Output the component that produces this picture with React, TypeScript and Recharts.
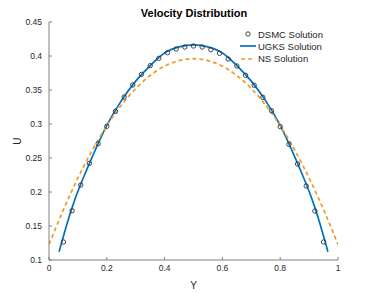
import { LineChart, Line, XAxis, YAxis, Legend } from 'recharts';

const dsmcY = [0.05, 0.08, 0.11, 0.14, 0.17, 0.2, 0.23, 0.26, 0.29, 0.32, 0.35, 0.38, 0.41, 0.44, 0.47, 0.5,
  0.53, 0.56, 0.59, 0.62, 0.65, 0.68, 0.71, 0.74, 0.77, 0.8, 0.83, 0.86, 0.89, 0.92, 0.95];
const dsmcU = [0.1265, 0.1725, 0.2103, 0.2422, 0.271, 0.2966, 0.3186, 0.3397, 0.3574, 0.373, 0.3858, 0.3966,
  0.4049, 0.4103, 0.4132, 0.4147, 0.4132, 0.4093, 0.4039, 0.3956, 0.3853, 0.3716, 0.3569, 0.3392, 0.3196,
  0.2961, 0.2701, 0.2412, 0.2088, 0.172, 0.1265];

const ugksY = [0.035, 0.04, 0.05, 0.065, 0.08, 0.1, 0.12, 0.15, 0.2, 0.25, 0.3, 0.35, 0.4, 0.45, 0.5,
  0.55, 0.6, 0.65, 0.7, 0.75, 0.8, 0.85, 0.88, 0.9, 0.92, 0.935, 0.95, 0.96, 0.965];
const ugksU = [0.112, 0.12, 0.135, 0.157, 0.177, 0.201, 0.222, 0.252, 0.298, 0.334, 0.363, 0.386, 0.4045,
  0.4135, 0.4165, 0.4135, 0.4045, 0.386, 0.363, 0.334, 0.298, 0.252, 0.222, 0.201, 0.177, 0.157, 0.135,
  0.12, 0.112];

const nsY = [0, 0.05, 0.1, 0.15, 0.2, 0.25, 0.3, 0.35, 0.4, 0.45, 0.5, 0.55, 0.6, 0.65, 0.7, 0.75, 0.8,
  0.85, 0.9, 0.95, 1];
const nsU = [0.123, 0.174, 0.2206, 0.2617, 0.2974, 0.3275, 0.3522, 0.3713, 0.385, 0.3933, 0.396, 0.3933,
  0.385, 0.3713, 0.3522, 0.3275, 0.2974, 0.2617, 0.2206, 0.174, 0.123];

const xTicks = [0, 0.2, 0.4, 0.6, 0.8, 1];
const yTicks = [0.1, 0.15, 0.2, 0.25, 0.3, 0.35, 0.4, 0.45];

const toRows = (xs: number[], us: number[]) => xs.map((x, i) => ({ x, u: us[i] }));

const dsmc = toRows(dsmcY, dsmcU);
const ugks = toRows(ugksY, ugksU);
const ns = toRows(nsY, nsU);

const font = '"Liberation Sans", Arial, Helvetica, sans-serif';
const textColor = '#262626';
const axisColor = '#808080';
const blue = '#0072BD';
const orange = '#ED9A2A';

const renderLegend = () => {
  const rows = [
    { label: 'DSMC Solution', kind: 'dot' },
    { label: 'UGKS Solution', kind: 'line' },
    { label: 'NS Solution', kind: 'dash' },
  ];
  return (
    <div style={{ fontFamily: font, fontSize: '9.5px', color: textColor }}>
      {rows.map((r) => (
        <div key={r.label} style={{ display: 'flex', alignItems: 'center', height: '12.3px' }}>
          <svg width={18} height={10} style={{ display: 'block' }}>
            {r.kind === 'dot' && <circle cx={9} cy={5} r={2.2} fill="none" stroke="#333" strokeWidth={0.9} />}
            {r.kind === 'line' && <line x1={1} y1={5} x2={17} y2={5} stroke={blue} strokeWidth={1.7} />}
            {r.kind === 'dash' && (
              <line x1={2} y1={5} x2={16} y2={5} stroke={orange} strokeWidth={1.7} strokeDasharray="4 3" />
            )}
          </svg>
          <span style={{ marginLeft: 1, whiteSpace: 'nowrap' }}>{r.label}</span>
        </div>
      ))}
    </div>
  );
};

export default function App() {
  return (
    <div style={{ position: 'absolute', left: 0, top: 0, width: 374, height: 293, background: '#fff' }}>
      <LineChart width={374} height={293} margin={{ top: 22, right: 36, bottom: 13, left: 9 }}>
        <text x={194} y={17} textAnchor="middle" fontFamily={font} fontSize={11} fontWeight="bold" fill="#000">
          Velocity Distribution
        </text>
        <text
          x={20.5}
          y={141}
          transform="rotate(-90, 20.5, 141)"
          textAnchor="middle"
          fontFamily={font}
          fontSize={10}
          fill={textColor}
        >
          U
        </text>
        <text x={193.5} y={289} textAnchor="middle" fontFamily={font} fontSize={10} fill={textColor}>
          Y
        </text>
        <XAxis
          type="number"
          dataKey="x"
          domain={[0, 1]}
          ticks={xTicks}
          height={20}
          stroke={axisColor}
          tickSize={-3}
          tickMargin={8}
          tick={{ fill: textColor, fontSize: 8.5, fontFamily: font }}
          allowDataOverflow
        />
        <YAxis
          type="number"
          dataKey="u"
          domain={[0.1, 0.45]}
          ticks={yTicks}
          width={40}
          stroke={axisColor}
          tickSize={-3}
          tickMargin={10}
          tick={{ fill: textColor, fontSize: 8.5, fontFamily: font }}
          allowDataOverflow
        />
        <Legend
          content={renderLegend}
          layout="vertical"
          align="center"
          verticalAlign="middle"
          wrapperStyle={{ position: 'absolute', left: 239, top: 28, width: 'auto' }}
        />
        <Line
          data={dsmc}
          dataKey="u"
          name="DSMC Solution"
          stroke="none"
          strokeWidth={0}
          dot={{ r: 2.2, stroke: '#333', strokeWidth: 0.9, fill: 'none' }}
          activeDot={false}
          isAnimationActive={false}
        />
        <Line
          data={ugks}
          dataKey="u"
          name="UGKS Solution"
          type="monotone"
          stroke={blue}
          strokeWidth={1.7}
          dot={false}
          isAnimationActive={false}
        />
        <Line
          data={ns}
          dataKey="u"
          name="NS Solution"
          type="monotone"
          stroke={orange}
          strokeWidth={1.7}
          strokeDasharray="4 3"
          dot={false}
          isAnimationActive={false}
        />
      </LineChart>
    </div>
  );
}
